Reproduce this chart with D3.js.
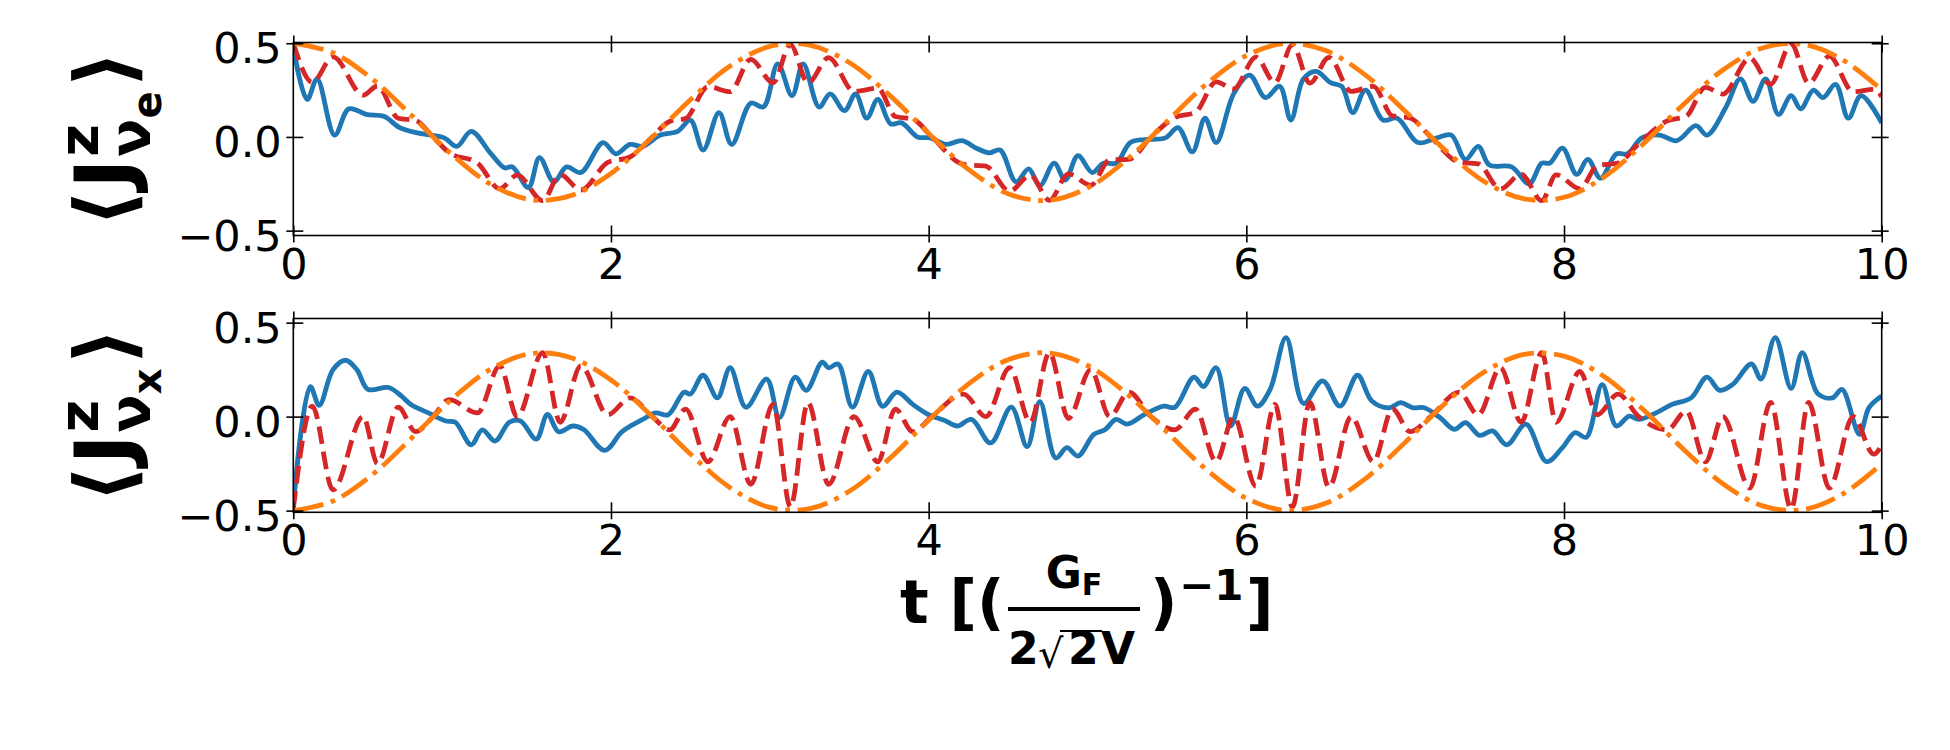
<!DOCTYPE html>
<html><head><meta charset="utf-8">
<script src="https://cdn.jsdelivr.net/npm/d3@7/dist/d3.min.js"></script>
<style>
html,body{margin:0;padding:0;background:#fff;}
svg{display:block;}
</style></head>
<body>
<svg id="chart" width="1950" height="750" xmlns="http://www.w3.org/2000/svg"></svg>
<script>
// ---------------- data ----------------
const xTicks = [0, 2, 4, 6, 8, 10];
const xTickLabels = ["0", "2", "4", "6", "8", "10"];
const yTicks = [-0.5, 0, 0.5];
const yTickLabels = ["\u22120.5", "0.0", "0.5"];

// orange dash-dot curve (same time grid for both panels)
const orangeT = [0,0.25,0.5,0.75,1,1.25,1.5,1.75,2,2.25,2.5,2.75,3,3.25,3.5,3.75,4,4.25,4.5,4.75,5,5.25,5.5,5.75,6,6.25,6.5,6.75,7,7.25,7.5,7.75,8,8.25,8.5,8.75,9,9.25,9.5,9.75,10];
const orangeTopV = [0.500,0.449,0.307,0.110,-0.095,-0.256,-0.336,-0.313,-0.195,-0.009,0.199,0.378,0.483,0.490,0.397,0.226,0.019,-0.173,-0.303,-0.339,-0.272,-0.120,0.082,0.283,0.434,0.499,0.461,0.330,0.137,-0.069,-0.239,-0.331,-0.322,-0.215,-0.036,0.172,0.357,0.475,0.495,0.414,0.251];
const orangeBotV = [-0.500,-0.449,-0.307,-0.110,0.095,0.256,0.336,0.313,0.195,0.009,-0.199,-0.378,-0.483,-0.490,-0.397,-0.226,-0.019,0.173,0.303,0.339,0.272,0.120,-0.082,-0.283,-0.434,-0.499,-0.461,-0.330,-0.137,0.069,0.239,0.331,0.322,0.215,0.036,-0.172,-0.357,-0.475,-0.495,-0.414,-0.251];

// red dashed curve (turning points), shared time grid
const redT = [0,0.12,0.25,0.44,0.53,0.66,0.77,0.88,0.98,1.16,1.30,1.41,1.57,1.68,1.81,1.98,2.12,2.26,2.37,2.47,2.61,2.75,2.88,3.02,3.13,3.24,3.37,3.53,3.68,3.79,3.90,4.02,4.22,4.36,4.51,4.64,4.76,4.88,5.02,5.14,5.26,5.40,5.55,5.68,5.81,5.92,6.06,6.18,6.29,6.40,6.52,6.66,6.80,6.92,7.03,7.16,7.34,7.46,7.60,7.73,7.86,7.95,8.10,8.21,8.34,8.47,8.65,8.77,8.89,9.00,9.17,9.30,9.43,9.54,9.67,9.82,9.95,10.0];
const redTopV = [0.50,0.292,0.427,0.223,0.272,0.100,0.088,0.0,-0.083,-0.139,-0.276,-0.204,-0.340,-0.200,-0.284,-0.136,-0.107,0.0,0.083,0.098,0.268,0.242,0.414,0.289,0.493,0.288,0.423,0.243,0.260,0.109,0.095,0.001,-0.147,-0.156,-0.290,-0.204,-0.338,-0.197,-0.258,-0.123,-0.120,0.0,0.104,0.132,0.294,0.256,0.426,0.290,0.493,0.287,0.425,0.243,0.270,0.112,0.101,0.0,-0.135,-0.144,-0.278,-0.199,-0.340,-0.202,-0.277,-0.153,-0.139,-0.037,0.086,0.111,0.265,0.229,0.420,0.281,0.496,0.287,0.431,0.241,0.254,0.215];
const redBotV = [-0.49,0.056,-0.39,0.00,-0.25,0.05,-0.08,0.00,0.09,0.02,0.27,0.00,0.34,-0.03,0.27,0.01,0.10,0.00,-0.07,0.04,-0.24,0.00,-0.36,0.065,-0.48,0.075,-0.36,0.00,-0.24,0.04,-0.08,0.00,0.12,0.00,0.26,-0.03,0.34,-0.01,0.25,0.00,0.13,0.00,-0.07,0.04,-0.24,0.00,-0.37,0.065,-0.48,0.075,-0.375,0.00,-0.24,0.04,-0.08,0.00,0.13,0.01,0.26,-0.03,0.34,-0.03,0.24,0.01,0.12,0.00,-0.07,0.03,-0.24,0.00,-0.38,0.075,-0.49,0.075,-0.38,0.00,-0.20,-0.15];

// blue solid curve, top panel
const blueTopT = [0,0.087,0.15,0.26,0.35,0.46,0.57,0.67,0.79,0.95,1.03,1.12,1.24,1.33,1.38,1.48,1.55,1.64,1.72,1.81,1.95,2.03,2.12,2.20,2.31,2.42,2.50,2.58,2.68,2.76,2.88,2.96,3.05,3.14,3.21,3.31,3.38,3.47,3.54,3.61,3.68,3.76,3.83,3.93,4.01,4.11,4.21,4.30,4.38,4.45,4.55,4.63,4.70,4.79,4.86,4.94,5.03,5.10,5.18,5.27,5.36,5.49,5.57,5.66,5.74,5.81,5.92,6.02,6.12,6.21,6.28,6.36,6.44,6.53,6.60,6.67,6.75,6.86,6.95,7.08,7.20,7.29,7.38,7.46,7.53,7.67,7.78,7.86,7.91,7.99,8.08,8.15,8.23,8.33,8.40,8.49,8.60,8.71,8.83,8.90,9.02,9.11,9.19,9.27,9.35,9.43,9.49,9.57,9.63,9.71,9.79,9.87,10.0];
const blueTopV = [0.48,0.20,0.31,0.01,0.15,0.12,0.11,0.05,0.02,-0.005,-0.05,0.03,-0.085,-0.165,-0.16,-0.27,-0.11,-0.24,-0.16,-0.19,-0.03,-0.09,-0.04,-0.05,0.01,0.03,0.09,-0.07,0.13,-0.04,0.18,0.16,0.39,0.22,0.39,0.16,0.23,0.14,0.23,0.10,0.20,0.07,0.075,0.0,-0.005,-0.04,-0.02,-0.06,-0.085,-0.07,-0.24,-0.17,-0.26,-0.14,-0.23,-0.10,-0.19,-0.14,-0.14,-0.03,-0.014,-0.005,0.05,-0.08,0.10,-0.03,0.23,0.33,0.21,0.27,0.09,0.31,0.35,0.29,0.27,0.13,0.25,0.09,0.10,-0.03,-0.005,0.01,-0.12,-0.05,-0.15,-0.16,-0.25,-0.14,-0.14,-0.06,-0.20,-0.12,-0.22,-0.09,-0.09,-0.005,0.01,-0.02,0.06,0.01,0.16,0.31,0.19,0.31,0.12,0.22,0.15,0.25,0.21,0.28,0.10,0.22,0.075];

// blue solid curve, bottom panel
const blueBotT = [0,0.107,0.163,0.25,0.33,0.40,0.47,0.60,0.68,0.74,0.85,0.96,1.02,1.12,1.19,1.27,1.36,1.43,1.53,1.60,1.67,1.76,1.83,1.96,2.07,2.20,2.28,2.36,2.46,2.50,2.58,2.67,2.75,2.85,2.98,3.06,3.16,3.23,3.33,3.37,3.43,3.52,3.62,3.71,3.80,3.90,4.00,4.10,4.18,4.27,4.39,4.52,4.62,4.70,4.80,4.87,4.94,5.04,5.11,5.18,5.25,5.36,5.48,5.55,5.67,5.73,5.81,5.90,5.99,6.07,6.15,6.25,6.36,6.48,6.59,6.70,6.79,6.90,6.97,7.05,7.12,7.22,7.31,7.38,7.47,7.55,7.64,7.76,7.89,7.99,8.07,8.14,8.24,8.33,8.41,8.47,8.58,8.68,8.80,8.90,8.98,9.06,9.18,9.24,9.33,9.43,9.50,9.60,9.69,9.75,9.86,9.92,10.0];
const blueBotV = [-0.475,0.16,0.06,0.25,0.30,0.25,0.145,0.155,0.11,0.065,0.02,-0.023,-0.03,-0.15,-0.07,-0.13,-0.03,-0.023,-0.12,0.012,-0.08,-0.05,-0.07,-0.18,-0.08,-0.015,0.02,0.01,0.13,0.12,0.22,0.10,0.26,0.05,0.20,-0.005,0.21,0.14,0.29,0.26,0.28,0.05,0.24,0.055,0.13,0.065,0.01,-0.02,-0.05,-0.015,-0.14,0.05,-0.16,0.08,-0.22,-0.165,-0.21,-0.095,-0.07,-0.015,-0.04,0.012,0.056,0.05,0.21,0.16,0.26,-0.05,0.15,0.056,0.145,0.42,0.07,0.19,0.056,0.22,0.083,0.047,0.074,0.047,0.047,-0.006,-0.068,-0.032,-0.10,-0.076,-0.15,-0.04,-0.24,-0.165,-0.085,-0.11,0.17,-0.05,0.003,-0.015,0.02,0.065,0.10,0.21,0.14,0.17,0.28,0.20,0.42,0.15,0.34,0.12,0.10,0.145,-0.094,0.048,0.11];

// ---------------- drawing ----------------
const svg = d3.select("#chart");
svg.append("rect").attr("width",1950).attr("height",750).attr("fill","#fff");
const FONT = "DejaVu Sans";
const C_BLUE = "#1f77b4", C_RED = "#d62728", C_ORANGE = "#ff7f0e";
const LW = 4.8;

const x = d3.scaleLinear().domain([0, 10]).range([293.3, 1881.7]);

const panels = [
  {top: 42.5, bottom: 235.5, yDomain: [-0.526, 0.504], blueT: blueTopT, blueV: blueTopV, redV: redTopV, orangeV: orangeTopV, sub: "e"},
  {top: 318.5, bottom: 512.3, yDomain: [-0.509, 0.522], blueT: blueBotT, blueV: blueBotV, redV: redBotV, orangeV: orangeBotV, sub: "x"}
];

panels.forEach((p, i) => {
  const y = d3.scaleLinear().domain(p.yDomain).range([p.bottom, p.top]);
  const g = svg.append("g");
  const clipId = "clip" + i;
  svg.append("clipPath").attr("id", clipId).append("rect")
    .attr("x", x.range()[0]).attr("y", p.top)
    .attr("width", x.range()[1] - x.range()[0]).attr("height", p.bottom - p.top);
  const plot = g.append("g").attr("clip-path", `url(#${clipId})`);

  const blueData = p.blueT.map((t, k) => [t, p.blueV[k]]);
  const redData = redT.map((t, k) => [t, p.redV[k]]);
  const orData = orangeT.map((t, k) => [t, p.orangeV[k]]);

  plot.append("path").datum(blueData)
    .attr("d", d3.line().x(d => x(d[0])).y(d => y(d[1])).curve(d3.curveCatmullRom.alpha(0.5)))
    .attr("fill", "none").attr("stroke", C_BLUE).attr("stroke-width", LW)
    .attr("stroke-linejoin", "round").attr("stroke-linecap", "butt");
  plot.append("path").datum(redData)
    .attr("d", d3.line().x(d => x(d[0])).y(d => y(d[1])).curve(d3.curveMonotoneX))
    .attr("fill", "none").attr("stroke", C_RED).attr("stroke-width", LW)
    .attr("stroke-dasharray", `${3.7*LW},${1.6*LW}`).attr("stroke-linecap", "butt");
  plot.append("path").datum(orData)
    .attr("d", d3.line().x(d => x(d[0])).y(d => y(d[1])).curve(d3.curveCatmullRom.alpha(0.5)))
    .attr("fill", "none").attr("stroke", C_ORANGE).attr("stroke-width", LW)
    .attr("stroke-dasharray", `${6.4*LW},${1.6*LW},${1.0*LW},${1.6*LW}`).attr("stroke-linecap", "butt");

  // axes
  const tickIn = 10, tickOut = 7;
  const axB = g.append("g").attr("transform", `translate(0,${p.bottom})`)
    .call(d3.axisBottom(x).tickValues(xTicks).tickFormat((d, k) => xTickLabels[k]).tickSize(tickOut).tickPadding(0));
  axB.selectAll(".tick line").attr("y1", -tickIn).attr("y2", tickOut);
  axB.selectAll(".tick text").attr("dy", null).attr("y", 43).attr("font-size", 43).attr("font-family", FONT).attr("fill", "#000");
  const axT = g.append("g").attr("transform", `translate(0,${p.top})`)
    .call(d3.axisTop(x).tickValues(xTicks).tickFormat("").tickSize(tickOut));
  axT.selectAll(".tick line").attr("y1", tickIn).attr("y2", -tickOut);
  const axL = g.append("g").attr("transform", `translate(${x.range()[0]},0)`)
    .call(d3.axisLeft(y).tickValues(yTicks).tickFormat((d, k) => yTickLabels[k]).tickSize(tickOut).tickPadding(0));
  axL.selectAll(".tick line").attr("x1", tickIn).attr("x2", -tickOut);
  axL.selectAll(".tick text").attr("dy", null).attr("x", -11.6).attr("y", 19.4).attr("font-size", 43).attr("font-family", FONT).attr("fill", "#000");
  const axR = g.append("g").attr("transform", `translate(${x.range()[1]},0)`)
    .call(d3.axisRight(y).tickValues(yTicks).tickFormat("").tickSize(tickOut));
  axR.selectAll(".tick line").attr("x1", -tickIn).attr("x2", tickOut);
  [axB, axT, axL, axR].forEach(a => {
    a.select(".domain").remove();
    a.selectAll(".tick line").attr("stroke", "#000").attr("stroke-width", 1.6);
  });
  g.append("rect").attr("x", x.range()[0]).attr("y", p.top)
    .attr("width", x.range()[1] - x.range()[0]).attr("height", p.bottom - p.top)
    .attr("fill", "none").attr("stroke", "#000").attr("stroke-width", 1.6);

  // y label  <J^z_{nu_sub}>
  const cy = (p.top + p.bottom) / 2;
  const lg = svg.append("g").attr("transform", `translate(132,${cy}) rotate(-90)`);
  const inner = lg.append("g");
  const S = 80;
  let cur = 0;
  function piece(str, size, dy, weight) {
    const e = inner.append("text").attr("x", cur).attr("y", dy)
      .attr("font-family", FONT).attr("font-weight", weight || "bold")
      .attr("font-size", size).attr("fill", "#000").text(str);
    return e.node().getComputedTextLength();
  }
  cur += piece("\u27E8", S, 0) + 2;
  cur += piece("J", S, 0) + 2;
  const base = cur;
  const wz = piece("z", S * 0.7, -0.42 * S);
  cur = base;
  cur += piece("\u03BD", S * 0.7, 0.22 * S);
  cur += piece(p.sub, S * 0.5, 0.36 * S);
  cur = Math.max(cur, base + wz) + 4;
  cur += piece("\u27E9", S, 0);
  inner.attr("transform", `translate(${-cur / 2},0)`);
});

// x label: t [(G_F / (2 sqrt(2) V))^-1]
const xl = svg.append("g").attr("font-family", FONT).attr("font-weight", "bold").attr("fill", "#000");
const XS = 60;
xl.append("text").attr("x", 900).attr("y", 623).attr("font-size", XS).text("t [(");
// fraction
const fracL = 1008, fracR = 1140, fracY = 609;
xl.append("line").attr("x1", fracL).attr("x2", fracR).attr("y1", fracY).attr("y2", fracY)
  .attr("stroke", "#000").attr("stroke-width", 4);
const num = xl.append("text").attr("y", 588).attr("font-size", 44);
num.append("tspan").text("G");
num.append("tspan").attr("font-size", 30).attr("dy", 7).text("F");
const nw = num.node().getComputedTextLength();
num.attr("x", (fracL + fracR) / 2 - nw / 2);
const den = xl.append("g");
den.append("text").attr("x", 1008).attr("y", 664).attr("font-size", 44).text("2");
den.append("text").attr("x", 1038).attr("y", 668).attr("font-size", 40).attr("font-weight", "normal").text("\u221A");
den.append("line").attr("x1", 1060).attr("x2", 1102).attr("y1", 631).attr("y2", 631).attr("stroke", "#000").attr("stroke-width", 2.2);
den.append("text").attr("x", 1068).attr("y", 664).attr("font-size", 44).text("2");
den.append("text").attr("x", 1101).attr("y", 664).attr("font-size", 44).text("V");
xl.append("text").attr("x", 1150).attr("y", 623).attr("font-size", XS).text(")");
xl.append("text").attr("x", 1179).attr("y", 600).attr("font-size", 42).text("\u22121");
xl.append("text").attr("x", 1246).attr("y", 623).attr("font-size", XS).text("]");
</script>
</body></html>
